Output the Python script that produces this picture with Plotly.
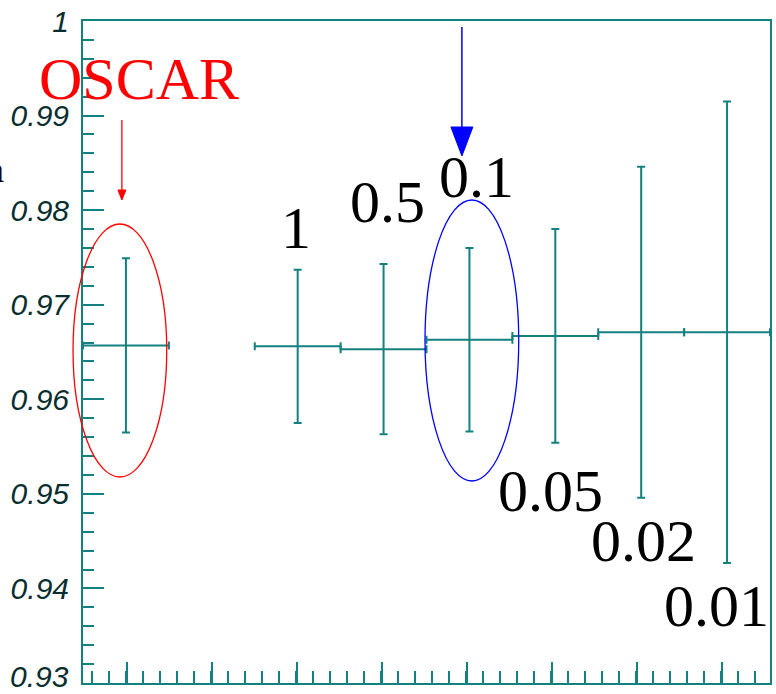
import plotly.graph_objects as go

# Efficiency points: the OSCAR reference and one point per parameter value
labels = ["OSCAR", "1", "0.5", "0.1", "0.05", "0.02", "0.01"]
bin_index = [0, 2, 3, 4, 5, 6, 7]
values = [0.9657, 0.9656, 0.9653, 0.9663, 0.9667, 0.9671, 0.9671]
errors = [0.0092, 0.0081, 0.0090, 0.0097, 0.0113, 0.0175, 0.0244]
bin_half_width = [0.5] * len(bin_index)

y_ticks = [0.93, 0.94, 0.95, 0.96, 0.97, 0.98, 0.99, 1.0]
y_tick_text = ["0.93", "0.94", "0.95", "0.96", "0.97", "0.98", "0.99", "1"]

W, H = 776, 694
PL, PR, PT, PB = 83, 772, 21, 683
TEAL = "#13817f"
LABEL_DARK = "#082e2f"
TICK_FONT = dict(family="Liberation Sans", size=30, color=LABEL_DARK, style="italic")


def fx(px):
    return (px - PL) / (PR - PL)


def fy(py):
    return (PB - py) / (PB - PT)


fig = go.Figure()
fig.add_trace(go.Scatter(
    x=bin_index,
    y=values,
    mode="markers",
    marker=dict(size=1, color=TEAL),
    error_y=dict(type="data", array=errors, color=TEAL, thickness=2, width=4),
    error_x=dict(type="data", array=bin_half_width, color=TEAL, thickness=2, width=4),
    showlegend=False,
    cliponaxis=True,
))

# Parameter labels next to their points
label_pos = {
    "1": (297, 228),
    "0.5": (388, 202),
    "0.1": (478, 177),
    "0.05": (552, 491),
    "0.02": (645, 541),
    "0.01": (718, 606),
}
annotations = []
for name, (px, py) in label_pos.items():
    annotations.append(dict(
        text=name, xref="paper", yref="paper", x=fx(px), y=fy(py),
        xanchor="center", yanchor="middle", showarrow=False,
        font=dict(family="Liberation Serif", size=60, color="black"),
    ))
annotations.append(dict(
    text=labels[0], xref="paper", yref="paper", x=fx(139), y=fy(79),
    xanchor="center", yanchor="middle", showarrow=False,
    font=dict(family="Liberation Serif", size=60, color="#ff0000"),
))
annotations.append(dict(
    text="a", xref="paper", yref="paper", x=fx(-4), y=fy(170),
    xanchor="center", yanchor="middle", showarrow=False,
    font=dict(family="Liberation Serif", size=36, color="black"),
))
# lowest y label sits just above the bottom edge of the page
annotations.append(dict(
    text=y_tick_text[0], xref="paper", yref="paper", x=fx(71), y=fy(676),
    xanchor="right", yanchor="middle", showarrow=False, font=TICK_FONT,
))

shapes = [
    # ellipse around OSCAR
    dict(type="circle", xref="paper", yref="paper",
         x0=fx(73), x1=fx(167), y0=fy(477), y1=fy(224),
         line=dict(color="#ff0000", width=1.3)),
    # ellipse around the 0.1 point
    dict(type="circle", xref="paper", yref="paper",
         x0=fx(426), x1=fx(520), y0=fy(481), y1=fy(200),
         line=dict(color="#0000ff", width=1.3)),
    # red arrow
    dict(type="line", xref="paper", yref="paper",
         x0=fx(122), x1=fx(122), y0=fy(120), y1=fy(192),
         line=dict(color="#ff0000", width=1.3)),
    dict(type="path", xref="paper", yref="paper",
         path=f"M {fx(118)} {fy(190)} L {fx(126)} {fy(190)} L {fx(122)} {fy(200)} Z",
         fillcolor="#ff0000", line=dict(color="#ff0000", width=1)),
    # blue arrow
    dict(type="line", xref="paper", yref="paper",
         x0=fx(463), x1=fx(463), y0=fy(27), y1=fy(130),
         line=dict(color="#0000ff", width=1.5)),
    dict(type="path", xref="paper", yref="paper",
         path=f"M {fx(452)} {fy(127)} L {fx(474)} {fy(127)} L {fx(463)} {fy(156)} Z",
         fillcolor="#0000ff", line=dict(color="#0000ff", width=1)),
]

fig.update_layout(
    width=W, height=H,
    margin=dict(l=PL, r=W - PR, t=PT, b=H - PB),
    paper_bgcolor="white", plot_bgcolor="white",
    annotations=annotations,
    shapes=shapes,
)
fig.update_xaxes(
    range=[-0.5, 7.5],
    showgrid=False, zeroline=False, showticklabels=False,
    showline=True, linecolor=TEAL, linewidth=2, mirror=True,
    ticks="inside", ticklen=21, tickwidth=2, tickcolor=TEAL,
    tick0=0.01, dtick=0.99,
    minor=dict(ticks="inside", ticklen=12, tickwidth=2, tickcolor=TEAL,
               dtick=0.198, showgrid=False),
)
fig.update_yaxes(
    range=[0.93, 1.0],
    showgrid=False, zeroline=False,
    showline=True, linecolor=TEAL, linewidth=2, mirror=True,
    ticks="inside", ticklen=21, tickwidth=2, tickcolor=TEAL,
    tickmode="array", tickvals=y_ticks[1:], ticktext=y_tick_text[1:],
    tickfont=TICK_FONT,
    ticklabelstandoff=6,
    minor=dict(ticks="inside", ticklen=11, tickwidth=2, tickcolor=TEAL,
               dtick=0.002, tick0=0.93, showgrid=False),
)

fig.write_html("out.html")
